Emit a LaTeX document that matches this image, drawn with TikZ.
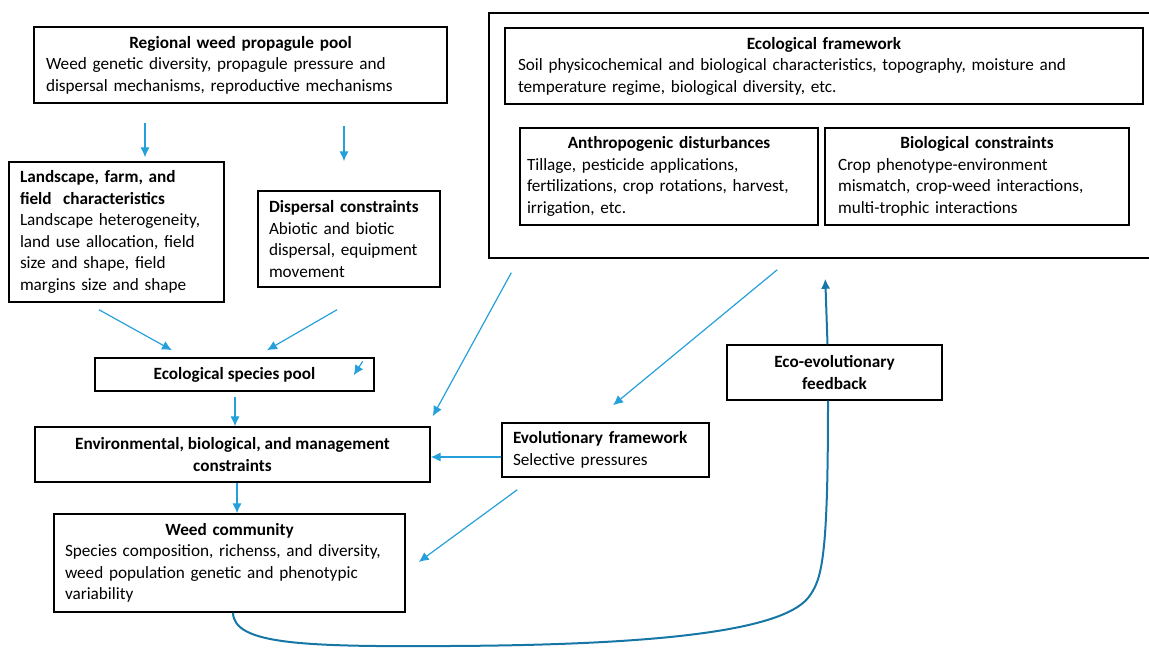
\documentclass[tikz,border=0pt]{standalone}
\usepackage{fontspec}
\setmainfont{Carlito}
\usepackage{xcolor}
\usepackage{tikz}
\usetikzlibrary{calc}
\usetikzlibrary{arrows.meta}
\definecolor{flowblue}{RGB}{38,160,218}
\definecolor{loopblue}{RGB}{22,118,166}
\newlength{\px}
\setlength{\px}{0.75pt}
\newcommand{\hd}[1]{{\centering\textbf{#1}\par}}

\begin{document}
\begin{tikzpicture}[x=0.75pt, y=-0.75pt, >={Latex[length=7.5pt,width=7pt]},
		box/.style={rectangle, draw=black!100, line width=1.1pt, inner sep=0pt, font=\fontsize{12.9}{16.1}\selectfont},
		flow/.style={->, draw=flowblue, line width=0.9pt},
		feedbk/.style={draw=loopblue, line width=1.5pt}]
			\useasboundingbox (0,0) rectangle (1149,648);
			\clip (0,0) rectangle (1149,648);
			%left column
			\node at (240.5,65) (regional) [box, minimum width=413\px, minimum height=76\px, text width=389\px, align=left] {\hd{Regional weed propagule pool}Weed genetic diversity, propagule pressure and\\dispersal mechanisms, reproductive mechanisms};
			\node at (116.5,232) (landscape) [box, minimum width=215\px, minimum height=140\px, text width=193\px, align=left] {\textbf{Landscape, farm, and}\\\textbf{field~ characteristics}\\Landscape heterogeneity,\\land use allocation, field\\size and shape, field\\margins size and shape};
			\node at (349,239) (dispersal) [box, minimum width=182\px, minimum height=96\px, text width=160\px, align=left] {\textbf{Dispersal constraints}\\Abiotic and biotic\\dispersal, equipment\\movement};
			\node at (234.5,374.5) (species) [box, minimum width=279\px, minimum height=33\px] {\textbf{Ecological species pool}};
			\node at (232.5,454.5) (environmental) [box, minimum width=395\px, minimum height=55\px, align=center] {\textbf{Environmental, biological, and management}\\\textbf{constraints}};
			\node at (229.5,563) (weed) [box, minimum width=351\px, minimum height=98\px, text width=329\px, align=left] {\hd{Weed community}Species composition, richenss, and diversity,\\weed population genetic and phenotypic\\variability};

			%ecological framework box
			\node at (829.5,135.5) (outer) [box, minimum width=681\px, minimum height=245\px] {};
			\node at (824,66) (ecological) [box, minimum width=638\px, minimum height=76\px, text width=612\px, align=left] {\hd{Ecological framework}Soil physicochemical and biological characteristics, topography, moisture and\\temperature regime, biological diversity, etc.};
			\node at (669,176.5) (anthropogenic) [box, minimum width=298\px, minimum height=97\px, text width=284\px, align=left] {\hd{Anthropogenic disturbances}Tillage, pesticide applications,\\fertilizations, crop rotations, harvest,\\irrigation, etc.};
			\node at (977,176.5) (biological) [box, minimum width=304\px, minimum height=97\px, text width=278\px, align=left] {\hd{Biological constraints}Crop phenotype-environment\\mismatch, crop-weed interactions,\\multi-trophic interactions};

			%evolution
			\node at (605.5,450) (evolutionary) [box, minimum width=207\px, minimum height=54\px, text width=185\px, align=left] {\textbf{Evolutionary framework}\\Selective pressures};
			\node at (834.5,372.5) (ecoevo) [box, minimum width=215\px, minimum height=55\px, align=center] {\textbf{Eco-evolutionary}\\\textbf{feedback}};

			%arrows
			\draw [flow] ($(landscape.north)+(28.5,-38)$) -- ($(landscape.north)+(28.5,-4)$);
			\draw [flow] ($(dispersal.north)+(-5,-64)$) -- ($(dispersal.north)+(-5,-29)$);
			\draw [flow] ($(landscape.south)+(-17.5,7)$) -- ($(species.north)+(-62.5,-7)$);
			\draw [flow] ($(dispersal.south)+(-12,22)$) -- ($(species.north)+(32.5,-7)$);
			\draw [flow] ($(species.north east)+(-12,4)$) -- ($(species.north east)+(-21,18)$);
			\draw [flow] ($(species.south)+(0.5,5)$) -- ($(environmental.north)+(2.5,0)$);
			\draw [flow] ($(environmental.south)+(4.5,0)$) -- ($(weed.north)+(7.5,0)$);
			\draw [flow] ($(outer.south west)+(23,14)$) -- ($(environmental.north east)+(2,-10)$);
			\draw [flow] ($(outer.south west)+(289,11)$) -- ($(evolutionary.north)+(7.5,-17)$);
			\draw [flow] ($(evolutionary.west)+(0,7)$) -- ($(environmental.east)+(0,2.5)$);
			\draw [flow] ($(evolutionary.south west)+(16,12)$) -- ($(weed.east)+(13,-1)$);

			%feedback loop
			\draw [feedbk] ($(weed.south)+(3.5,0)$) .. controls (234,644) and (300,647) .. (450,646) .. controls (650,645) and (780,632) .. (808,598) .. controls (822,580) and (828,560) .. ($(ecoevo.south)+(-6.5,0)$);
			\draw [feedbk, ->] ($(ecoevo.north)+(-7,0)$) -- ($(outer.south west)+(337,20)$);
		\end{tikzpicture}
\end{document}
